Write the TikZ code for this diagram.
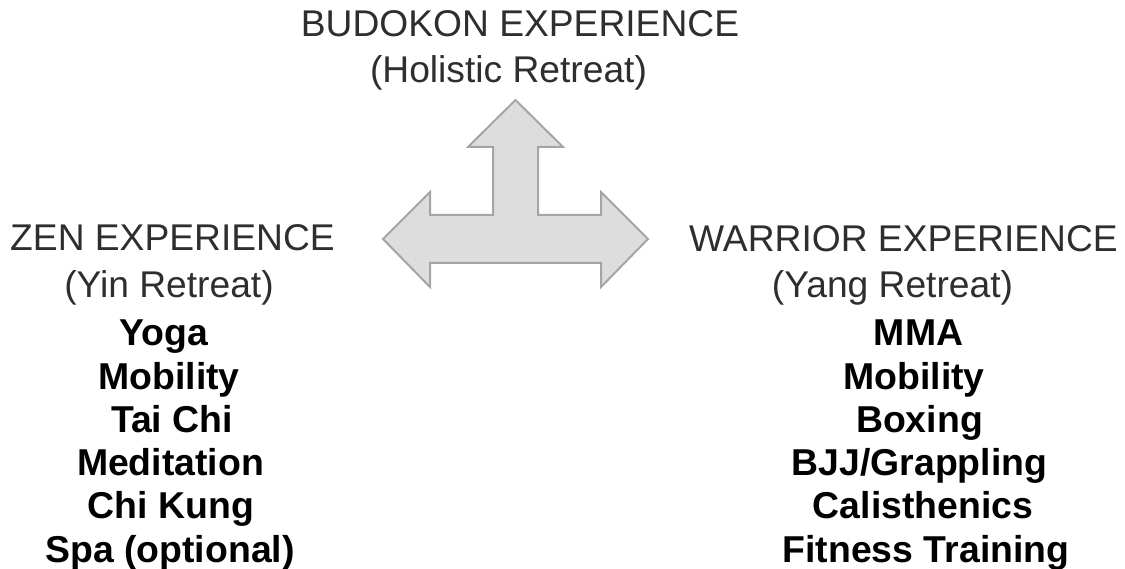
\documentclass[tikz,border=0pt]{standalone}
\usepackage{fontspec}
\setmainfont{Liberation Sans}
\definecolor{headgray}{HTML}{2E2E2E}
\definecolor{arrowfill}{HTML}{DDDDDD}
\definecolor{arrowline}{HTML}{A5A5A5}
\begin{document}
\begin{tikzpicture}[x=1pt,y=-1pt,
  head/.style={inner sep=0pt,anchor=base,text=headgray,font=\fontsize{37.2}{44}\selectfont},
  item/.style={inner sep=0pt,anchor=base,text=black,font=\fontsize{37.4}{44}\selectfont\bfseries}]
\useasboundingbox (0,0) rectangle (1125,569);
% three-way arrow
\draw[fill=arrowfill,draw=arrowline,line width=2pt,line join=miter]
  (515.5,100) -- (563,147) -- (538,147) -- (538,215) -- (601,215) -- (601,192)
  -- (648,239) -- (601,287) -- (601,263) -- (430,263) -- (430,287) -- (383,239)
  -- (430,192) -- (430,215) -- (493,215) -- (493,147) -- (468,147) -- cycle;
% headers
\node[head] (budo) at (520,37) {BUDOKON EXPERIENCE};
\node[head] (holi) at (508.5,83) {(Holistic Retreat)};
\node[head] (zen) at (172.5,251) {ZEN EXPERIENCE};
\node[head] (yin) at (169,298) {(Yin Retreat)};
\node[head] (war) at (903.5,252) {WARRIOR EXPERIENCE};
\node[head] (yang) at (892.5,298) {(Yang Retreat)};
% left items
\node[item] (l1) at (164,346) {Yoga};
\node[item] (l2) at (169,389) {Mobility};
\node[item] (l3) at (172,432) {Tai Chi};
\node[item] (l4) at (170.5,475) {Meditation};
\node[item] (l5) at (171,518) {Chi Kung};
\node[item] (l6) at (170,562) {Spa (optional)};
% right items
\node[item] (r1) at (918.5,346) {MMA};
\node[item] (r2) at (914,389) {Mobility};
\node[item] (r3) at (919.5,432) {Boxing};
\node[item] (r4) at (919.5,475) {BJJ/Grappling};
\node[item] (r5) at (923,518) {Calisthenics};
\node[item] (r6) at (926,562) {Fitness Training};
\end{tikzpicture}
\end{document}
